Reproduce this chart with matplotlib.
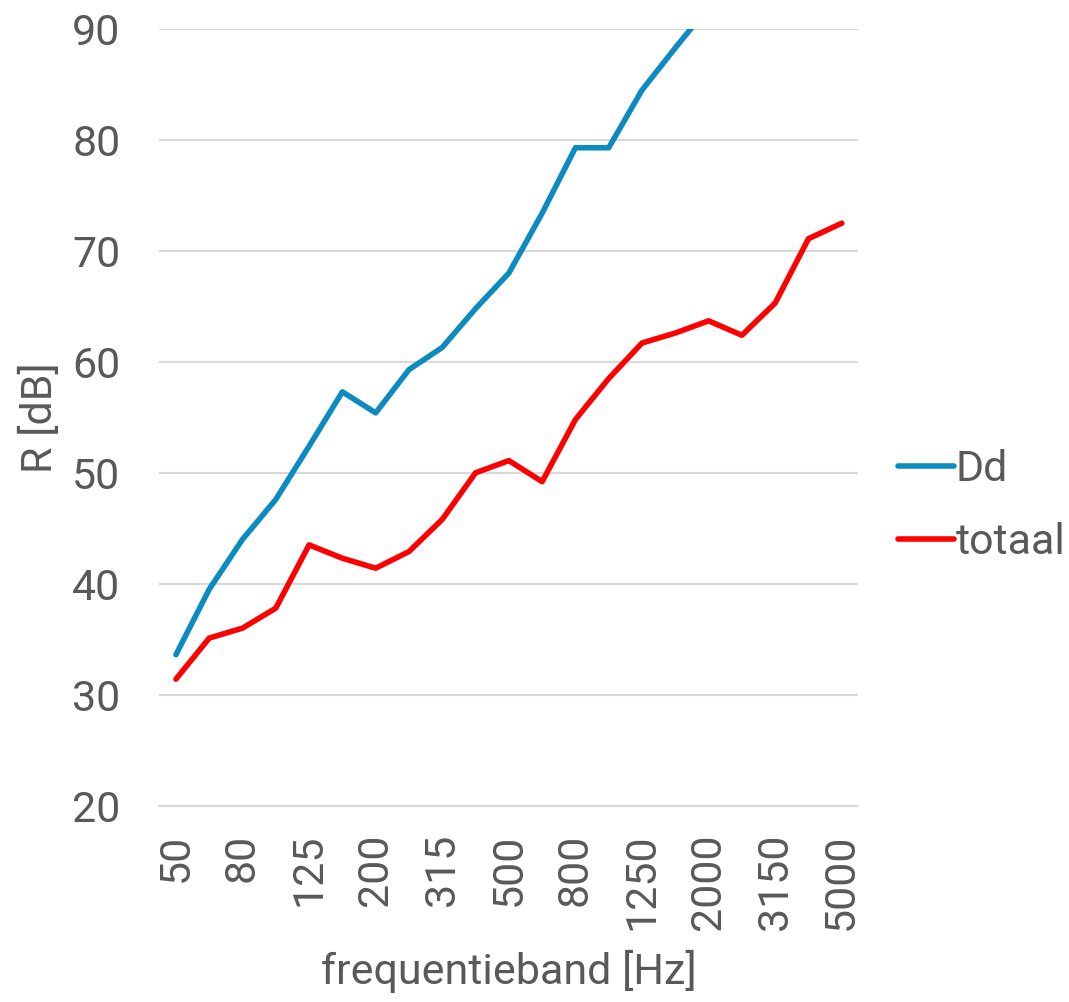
import numpy as np
import matplotlib
matplotlib.use("Agg")
import matplotlib.pyplot as plt

plt.rcParams['font.family'] = ['Roboto', 'DejaVu Sans']

# third-octave bands [Hz]
bands = ["50", "63", "80", "100", "125", "160", "200", "250", "315", "400", "500",
         "630", "800", "1000", "1250", "1600", "2000", "2500", "3150", "4000", "5000"]

# Dd runs off the top of the chart above 1600 Hz
dd = [33.6, 39.5, 44.0, 47.6, 52.4, 57.3, 55.4, 59.3, 61.3, 64.8, 68.0,
      73.4, 79.3, 79.3, 84.5, 88.3, 92.0, 95.0, 98.0, 101.0, 103.0]
totaal = [31.4, 35.1, 36.0, 37.8, 43.5, 42.3, 41.4, 42.9, 45.8, 50.0, 51.1,
          49.2, 54.8, 58.5, 61.7, 62.6, 63.7, 62.4, 65.3, 71.1, 72.5]

text_col = "#595959"
grid_col = "#D9D9D9"
fs = 31

fig = plt.figure(figsize=(10.69, 10.02), dpi=100, facecolor="w")
ax = fig.add_axes([0.149, 0.196, 0.654, 0.775])

x = np.arange(len(bands))
ax.plot(x, dd, color="#0B8BBF", lw=4, label="Dd", solid_capstyle="round")
ax.plot(x, totaal, color="#FF0000", lw=4, label="totaal", solid_capstyle="round")

ax.set_xlim(-0.5, len(bands) - 0.5)
ax.set_ylim(20, 90)
ax.set_yticks(np.arange(20, 91, 10))
ax.set_xticks(x[::2])
ax.set_xticklabels(bands[::2], rotation=90)

ax.grid(axis="y", color=grid_col, lw=1.5)
ax.set_axisbelow(True)
for s in ["top", "right", "left"]:
    ax.spines[s].set_visible(False)
ax.spines["bottom"].set_color(grid_col)
ax.spines["bottom"].set_linewidth(1.5)
ax.tick_params(length=0, labelsize=fs, colors=text_col)
ax.tick_params(axis="y", pad=28)
ax.tick_params(axis="x", pad=20)

ax.set_xlabel("frequentieband [Hz]", fontsize=fs, color=text_col, labelpad=14)
ax.set_ylabel("R [dB]", fontsize=fs, color=text_col, labelpad=8)

leg = ax.legend(loc="center left", bbox_to_anchor=(1.056, 0.386), frameon=False,
                fontsize=fs, handlelength=1.3, handletextpad=0.05, labelspacing=0.75,
                borderaxespad=0, borderpad=0)
for t in leg.get_texts():
    t.set_color(text_col)

fig.savefig("out.png", dpi=100)
